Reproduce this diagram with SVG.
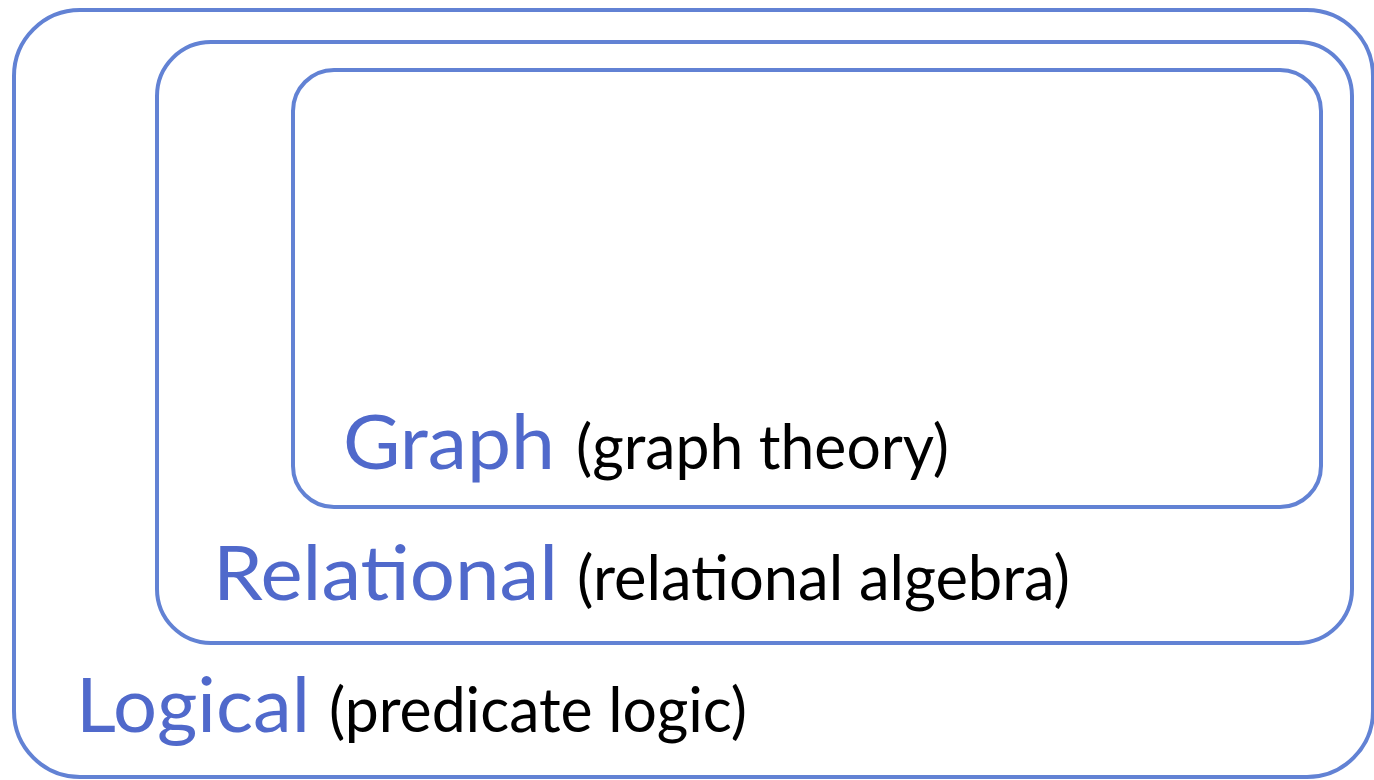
<svg xmlns="http://www.w3.org/2000/svg" width="1374" height="780" viewBox="0 0 1374 780">
<style>
.box{fill:none;stroke:#6282D4;stroke-width:4}
.title{font-family:Lato,"Open Sans",sans-serif;font-size:76px;fill:#5069CB}
.sub{font-family:Lato,"Open Sans",sans-serif;font-size:61px;fill:#000}
</style>
<rect width="1374" height="780" fill="#fff"/>
<g id="logical">
<rect class="box" x="14" y="10" width="1359" height="767" rx="66" ry="66"/>
<text class="title" x="76" y="732" textLength="234" lengthAdjust="spacingAndGlyphs">Logical</text>
<text class="sub" x="329" y="732" textLength="418" lengthAdjust="spacingAndGlyphs">(predicate logic)</text>
</g>
<g id="relational">
<rect class="box" x="157" y="42" width="1195" height="601" rx="54" ry="54"/>
<text class="title" x="213" y="600" textLength="345" lengthAdjust="spacingAndGlyphs">Relational</text>
<text class="sub" x="577" y="600" textLength="493" lengthAdjust="spacingAndGlyphs">(relational algebra)</text>
</g>
<g id="graph">
<rect class="box" x="293" y="70" width="1028" height="437" rx="41" ry="41"/>
<text class="title" x="343" y="469" textLength="212" lengthAdjust="spacingAndGlyphs">Graph</text>
<text class="sub" x="576" y="469" textLength="373" lengthAdjust="spacingAndGlyphs">(graph theory)</text>
</g>
<g id="connectors"></g>
</svg>
